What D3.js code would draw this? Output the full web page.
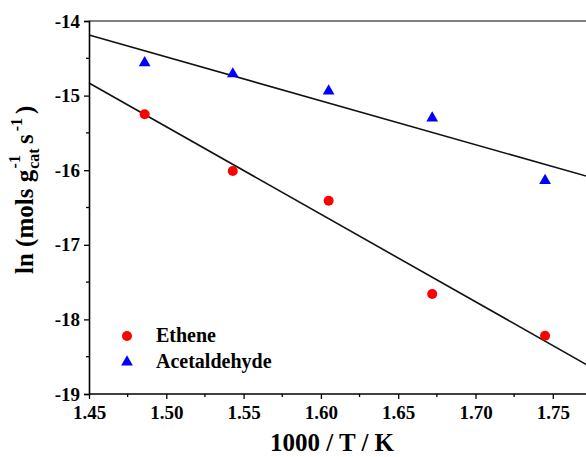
<!DOCTYPE html>
<html><head><meta charset="utf-8">
<script src="https://cdn.jsdelivr.net/npm/d3@7"></script>
<style>body{margin:0;background:#fff}svg{display:block}text{font-family:"Liberation Serif","DejaVu Serif",serif !important;font-weight:bold;fill:#000}</style>
</head><body><svg id="c" width="586" height="457"></svg>
<script>
const xTicks = [1.45, 1.50, 1.55, 1.60, 1.65, 1.70, 1.75];
const yTicks = [-14, -15, -16, -17, -18, -19];
const invT = [1.486, 1.543, 1.605, 1.672, 1.745];
const ethene = [-15.25, -16.01, -16.41, -17.66, -18.22];
const acetaldehyde = [-14.56, -14.71, -14.94, -15.30, -16.14];
const seriesNames = ["Ethene", "Acetaldehyde"];

const FONT = "'Liberation Serif', 'DejaVu Serif', serif";
const svg = d3.select("#c");
const L = 89, T = 21, B = 394;
const x = d3.scaleLinear().domain([1.45, 1.80]).range([L, L + 1546 * 0.35]);
const y = d3.scaleLinear().domain([-19, -14]).range([B, T]);

function fit(xs, ys) {
  const mx = d3.mean(xs), my = d3.mean(ys);
  let sxy = 0, sxx = 0;
  xs.forEach((v, i) => { sxy += (v - mx) * (ys[i] - my); sxx += (v - mx) ** 2; });
  const b = sxy / sxx;
  return v => my + b * (v - mx);
}

// top border
svg.append("line").attr("x1", L).attr("x2", 586).attr("y1", T).attr("y2", T)
  .attr("stroke", "#555").attr("stroke-width", 1.6);

// fit lines
[ethene, acetaldehyde].forEach(ys => {
  const f = fit(invT, ys);
  svg.append("line").attr("x1", x(1.45)).attr("y1", y(f(1.45)))
    .attr("x2", x(1.80)).attr("y2", y(f(1.80)))
    .attr("stroke", "#111").attr("stroke-width", 1.6);
});

// axes
const xAxis = d3.axisBottom(x).tickValues(xTicks).tickFormat(d3.format(".2f")).tickSize(5).tickPadding(7);
const gx = svg.append("g").attr("transform", `translate(0,${B})`).call(xAxis);
const xMinor = d3.range(1.475, 1.78, 0.05);
gx.selectAll(".mx").data(xMinor).enter().append("line").attr("x1", d => x(d)).attr("x2", d => x(d))
  .attr("y1", 0).attr("y2", 3).attr("stroke", "#000").attr("stroke-width", 1.3);

const yAxis = d3.axisLeft(y).tickValues(yTicks).tickFormat(d => "-" + Math.abs(d)).tickSize(5).tickPadding(4);
const gy = svg.append("g").attr("transform", `translate(${L},0)`).call(yAxis);
const yMinor = [-14.5, -15.5, -16.5, -17.5, -18.5];
gy.selectAll(".my").data(yMinor).enter().append("line").attr("x1", 0).attr("x2", -3)
  .attr("y1", d => y(d)).attr("y2", d => y(d)).attr("stroke", "#000").attr("stroke-width", 1.3);

[gx, gy].forEach(g => {
  g.attr("font-family", FONT).attr("font-size", 19).attr("font-weight", "bold");
  g.select(".domain").attr("stroke", "#000").attr("stroke-width", 1.6);
  g.selectAll(".tick line").attr("stroke", "#000").attr("stroke-width", 1.3);
  g.selectAll(".tick text").attr("fill", "#000");
});
gx.select(".domain").attr("d", `M${L},0H586`);

// markers
const tri = d3.symbol().type(d3.symbolTriangle).size(60);
svg.selectAll(".e").data(invT).enter().append("circle")
  .attr("cx", d => x(d)).attr("cy", (d, i) => y(ethene[i])).attr("r", 5).attr("fill", "#ff0000");
svg.selectAll(".a").data(invT).enter().append("path").attr("d", tri)
  .attr("transform", (d, i) => `translate(${x(d)},${y(acetaldehyde[i])})`).attr("fill", "#0000ff");

// legend
svg.append("circle").attr("cx", 127).attr("cy", 336).attr("r", 5).attr("fill", "#ff0000");
svg.append("path").attr("d", tri).attr("transform", "translate(127,362)").attr("fill", "#0000ff");
svg.append("text").attr("x", 156).attr("y", 342).attr("font-size", 20).text(seriesNames[0]);
svg.append("text").attr("x", 156).attr("y", 368).attr("font-size", 20).text(seriesNames[1]);

// x title
svg.append("text").attr("x", 332).attr("y", 451).attr("text-anchor", "middle").attr("font-size", 25).text("1000 / T / K");

// y title (rotated)
const yt = svg.append("text").attr("transform", "translate(33,274) rotate(-90)").attr("font-size", 25);
yt.append("tspan").text("ln (mols g");
yt.append("tspan").attr("dx", 1).attr("dy", 6).attr("font-size", 16).text("cat");
yt.append("tspan").attr("dx", -20).attr("dy", -19).attr("font-size", 16).text("-1");
yt.append("tspan").attr("dx", 11).attr("dy", 13).text("s");
yt.append("tspan").attr("dx", 3).attr("dy", -11).attr("font-size", 16).text("-1");
yt.append("tspan").attr("dx", 4).attr("dy", 11).text(")");
</script></body></html>
